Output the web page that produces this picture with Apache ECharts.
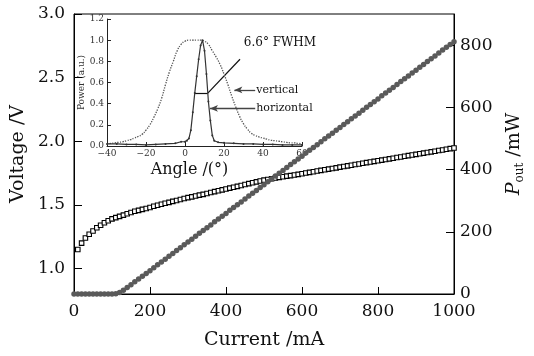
<!DOCTYPE html>
<html>
<head>
    <meta charset="utf-8">
    <title>LIV</title>
    <script src="https://cdn.jsdelivr.net/npm/echarts@6/dist/echarts.min.js"></script>
</head>
<body style="margin:0">
    <div id="main" style="width:534px;height:356px;"></div>
    <script type="text/javascript">
        // main chart: current (mA), voltage (V), output power (mW)
        var current = [0, 10, 20, 30, 40, 50, 60, 70, 80, 90, 100,
            110, 120, 130, 140, 150, 160, 170, 180, 190, 200,
            210, 220, 230, 240, 250, 260, 270, 280, 290, 300,
            310, 320, 330, 340, 350, 360, 370, 380, 390, 400,
            410, 420, 430, 440, 450, 460, 470, 480, 490, 500,
            510, 520, 530, 540, 550, 560, 570, 580, 590, 600,
            610, 620, 630, 640, 650, 660, 670, 680, 690, 700,
            710, 720, 730, 740, 750, 760, 770, 780, 790, 800,
            810, 820, 830, 840, 850, 860, 870, 880, 890, 900,
            910, 920, 930, 940, 950, 960, 970, 980, 990, 1000];
        var voltage = [null, 1.15, 1.20, 1.24, 1.27, 1.295, 1.32, 1.34, 1.36, 1.375, 1.39,
            1.40, 1.41, 1.42, 1.43, 1.44, 1.45, 1.457, 1.465, 1.472, 1.48,
            1.49, 1.497, 1.505, 1.513, 1.52, 1.528, 1.535, 1.543, 1.55, 1.557,
            1.563, 1.57, 1.577, 1.583, 1.59, 1.597, 1.604, 1.611, 1.618, 1.625,
            1.632, 1.639, 1.646, 1.653, 1.66, 1.667, 1.674, 1.681, 1.688, 1.695,
            1.70, 1.706, 1.711, 1.716, 1.721, 1.726, 1.73, 1.735, 1.74, 1.745,
            1.751, 1.756, 1.761, 1.766, 1.771, 1.776, 1.781, 1.786, 1.791, 1.797,
            1.802, 1.807, 1.812, 1.817, 1.822, 1.827, 1.832, 1.837, 1.842, 1.847,
            1.852, 1.857, 1.862, 1.867, 1.872, 1.877, 1.882, 1.887, 1.892, 1.897,
            1.902, 1.907, 1.912, 1.917, 1.922, 1.927, 1.932, 1.937, 1.942, 1.947];
        var power = [0, 0, 0, 0, 0, 0, 0, 0, 0, 0, 0,
            1, 5, 12, 21, 30, 39, 48, 57, 66, 75,
            84, 94, 103, 112, 121, 130, 140, 149, 158, 167,
            176, 186, 195, 204, 213, 222, 232, 241, 250, 259,
            269, 278, 287, 296, 305, 315, 324, 333, 342, 351,
            361, 370, 379, 388, 397, 407, 416, 425, 434, 443,
            453, 462, 471, 480, 489, 499, 508, 517, 526, 535,
            545, 554, 563, 572, 581, 591, 600, 609, 618, 627,
            637, 646, 655, 664, 673, 683, 692, 701, 710, 719,
            729, 738, 747, 756, 765, 775, 784, 793, 802, 811];

        var voltTicks = [1.0, 1.5, 2.0, 2.5, 3.0];
        var powerTicks = [0, 200, 400, 600, 800];

        // inset: far-field profiles
        var vertAngle = [-40, -38, -36, -34, -32, -30, -28, -26, -24, -22, -20, -18, -16, -14, -12, -10,
            -8, -6, -4, -2, 0, 2, 4, 6, 8, 10, 12, 14, 16, 18, 20, 22, 24, 26, 28, 30,
            32, 34, 36, 38, 40, 42, 44, 46, 48, 50, 52, 54, 56, 58, 60];
        var vertPower = [0.02, 0.025, 0.03, 0.035, 0.04, 0.05, 0.06, 0.075, 0.09, 0.11, 0.15, 0.2, 0.27, 0.35, 0.45, 0.58,
            0.7, 0.8, 0.9, 0.96, 0.99, 1.0, 1.0, 1.0, 1.0, 0.99, 0.96, 0.9, 0.84, 0.77, 0.68, 0.58, 0.47, 0.37, 0.28, 0.21,
            0.16, 0.12, 0.1, 0.085, 0.075, 0.065, 0.055, 0.05, 0.045, 0.04, 0.035, 0.03, 0.03, 0.025, 0.02];
        var horizAngle = [-40, -35, -30, -25, -20, -15, -10, -5, -2, 0, 1, 2, 3, 4, 5, 6, 7, 8, 9, 10,
            11, 12, 13, 14, 15, 17, 20, 25, 30, 35, 40, 45, 50, 55, 60];
        var horizPower = [0.02, 0.02, 0.015, 0.015, 0.01, 0.015, 0.02, 0.025, 0.04, 0.04, 0.05, 0.07, 0.15, 0.32, 0.5, 0.66, 0.82, 0.95, 1.0, 0.9,
            0.68, 0.42, 0.24, 0.1, 0.05, 0.035, 0.03, 0.025, 0.02, 0.02, 0.015, 0.015, 0.01, 0.01, 0.01];

        // annotation anchors, in inset data units
        var fwhmBar = [[5.1, 0.5], [11.7, 0.5]];
        var fwhmPointer = [[11.7, 0.5], [28.2, 0.82]];
        var fwhmText = [29.9, 0.97];
        var vertArrow = [[36, 0.53], [25.3, 0.53]];
        var horizArrow = [[36, 0.355], [12.8, 0.355]];

        function pairs(xs, ys) {
            return xs.map(function (x, i) { return [x, ys[i]]; });
        }

        var serif = 'DejaVu Serif';
        var ink = '#111';

        var myChart = echarts.init(document.getElementById('main'));

        var option = {
            backgroundColor: '#fff',
            animation: false,
            textStyle: { fontFamily: serif, color: ink },
            grid: [
                { left: 74, right: 78, top: 14, bottom: 62, show: true, borderColor: '#000', borderWidth: 1 },
                { left: 107, right: 232, top: 19, bottom: 210 }
            ],
            xAxis: [{
                gridIndex: 0,
                type: 'value',
                min: 0, max: 1000, interval: 200,
                name: 'Current /mA',
                nameLocation: 'middle',
                nameGap: 37,
                nameTextStyle: { fontFamily: serif, fontSize: 19, color: ink },
                axisLine: { lineStyle: { color: '#000' } },
                axisTick: { inside: true, length: 7, lineStyle: { color: '#000' } },
                axisLabel: {
                    fontFamily: serif, fontSize: 17, color: ink, margin: 9,
                    formatter: function (v) { return String(v); }
                },
                splitLine: { show: false }
            }, {
                gridIndex: 1,
                type: 'value',
                position: 'bottom',
                min: -40, max: 60, interval: 20,
                name: 'Angle /(°)',
                nameLocation: 'middle',
                nameGap: 16,
                nameTextStyle: { fontFamily: serif, fontSize: 16, color: ink, padding: [0, 30, 0, 0] },
                axisLine: { onZero: false, lineStyle: { color: '#222' } },
                axisTick: { inside: true, length: 4, lineStyle: { color: '#222' } },
                axisLabel: {
                    fontFamily: serif, fontSize: 9, color: '#333', margin: 3,
                    formatter: function (v) { return String(v).replace('-', '\u2212'); }
                },
                splitLine: { show: false }
            }],
            yAxis: [{
                gridIndex: 0,
                type: 'value',
                min: 0.8, max: 3.0,
                name: 'Voltage /V',
                nameLocation: 'middle',
                nameGap: 46,
                nameTextStyle: { fontFamily: serif, fontSize: 19, color: ink },
                axisLine: { lineStyle: { color: '#000' } },
                axisTick: { inside: true, length: 8, customValues: voltTicks, lineStyle: { color: '#000' } },
                axisLabel: {
                    fontFamily: serif, fontSize: 17, color: ink, margin: 9,
                    customValues: voltTicks,
                    formatter: function (v) { return v.toFixed(1); }
                },
                splitLine: { show: false }
            }, {
                gridIndex: 0,
                type: 'value',
                position: 'right',
                min: 0, max: 900,
                name: '{i|P}{s|out} /mW',
                nameLocation: 'middle',
                nameGap: 48,
                nameTextStyle: {
                    fontFamily: serif, fontSize: 19, color: ink,
                    rich: {
                        i: { fontFamily: serif, fontSize: 19, fontStyle: 'italic', color: ink, lineHeight: 24, verticalAlign: 'middle' },
                        s: { fontFamily: serif, fontSize: 12, color: ink, lineHeight: 24, verticalAlign: 'bottom' }
                    }
                },
                axisLine: { lineStyle: { color: '#000' } },
                axisTick: { inside: true, length: 8, customValues: powerTicks, lineStyle: { color: '#000' } },
                axisLabel: { fontFamily: serif, fontSize: 17, color: ink, margin: 6, customValues: powerTicks },
                splitLine: { show: false }
            }, {
                gridIndex: 1,
                type: 'value',
                position: 'left',
                min: 0, max: 1.2, interval: 0.2,
                name: 'Power (a.u.)',
                nameLocation: 'middle',
                nameGap: 20,
                nameTextStyle: { fontFamily: serif, fontSize: 9, color: '#333' },
                axisLine: { onZero: false, lineStyle: { color: '#222' } },
                axisTick: { inside: true, length: 4, lineStyle: { color: '#222' } },
                axisLabel: {
                    fontFamily: serif, fontSize: 9, color: '#333', margin: 3,
                    formatter: function (v) { return v.toFixed(1); }
                },
                splitLine: { show: false }
            }],
            series: [{
                name: 'voltage',
                type: 'line',
                xAxisIndex: 0, yAxisIndex: 0,
                data: pairs(current, voltage),
                symbol: 'rect',
                symbolSize: 4.5,
                showAllSymbol: true,
                lineStyle: { width: 0 },
                itemStyle: { color: '#fff', borderColor: '#000', borderWidth: 1.1 },
                z: 3
            }, {
                name: 'power',
                type: 'line',
                xAxisIndex: 0, yAxisIndex: 1,
                data: pairs(current, power),
                symbol: 'circle',
                symbolSize: 5.5,
                showAllSymbol: true,
                lineStyle: { width: 0 },
                itemStyle: { color: '#5a5a5a' },
                z: 4
            }, {
                name: 'vertical',
                type: 'line',
                xAxisIndex: 1, yAxisIndex: 2,
                data: pairs(vertAngle, vertPower),
                smooth: true,
                symbol: 'none',
                lineStyle: { color: '#555', width: 1.3, type: 'dotted' },
                z: 5
            }, {
                name: 'horizontal',
                type: 'line',
                xAxisIndex: 1, yAxisIndex: 2,
                data: pairs(horizAngle, horizPower),
                symbol: 'circle',
                symbolSize: 2,
                showAllSymbol: true,
                lineStyle: { color: '#333', width: 1.2 },
                itemStyle: { color: '#333' },
                z: 6,
                markLine: {
                    silent: true,
                    symbol: ['none', 'none'],
                    lineStyle: { color: '#111', width: 1.2, type: 'solid' },
                    label: { show: false },
                    data: [
                        [{ coord: fwhmBar[0] }, { coord: fwhmBar[1] }],
                        [{ coord: fwhmPointer[0] }, { coord: fwhmPointer[1] }],
                        [{
                            coord: vertArrow[0],
                            lineStyle: { color: '#444', width: 1.3 },
                            label: { show: true, position: 'start', distance: 1, formatter: 'vertical', fontFamily: serif, fontSize: 11, color: ink }
                        }, { coord: vertArrow[1], symbol: 'arrow', symbolSize: [5, 8] }],
                        [{
                            coord: horizArrow[0],
                            lineStyle: { color: '#444', width: 1.3 },
                            label: { show: true, position: 'start', distance: 1, formatter: 'horizontal', fontFamily: serif, fontSize: 11, color: ink }
                        }, { coord: horizArrow[1], symbol: 'arrow', symbolSize: [5, 8] }]
                    ]
                },
                markPoint: {
                    silent: true,
                    symbol: 'circle',
                    symbolSize: 1,
                    itemStyle: { color: 'rgba(0,0,0,0)' },
                    label: {
                        show: true, position: 'right', distance: 0,
                        fontFamily: serif, fontSize: 12, color: ink,
                        formatter: '6.6° FWHM'
                    },
                    data: [{ coord: fwhmText }]
                }
            }]
        };

        myChart.setOption(option);
    </script>
</body>
</html>
